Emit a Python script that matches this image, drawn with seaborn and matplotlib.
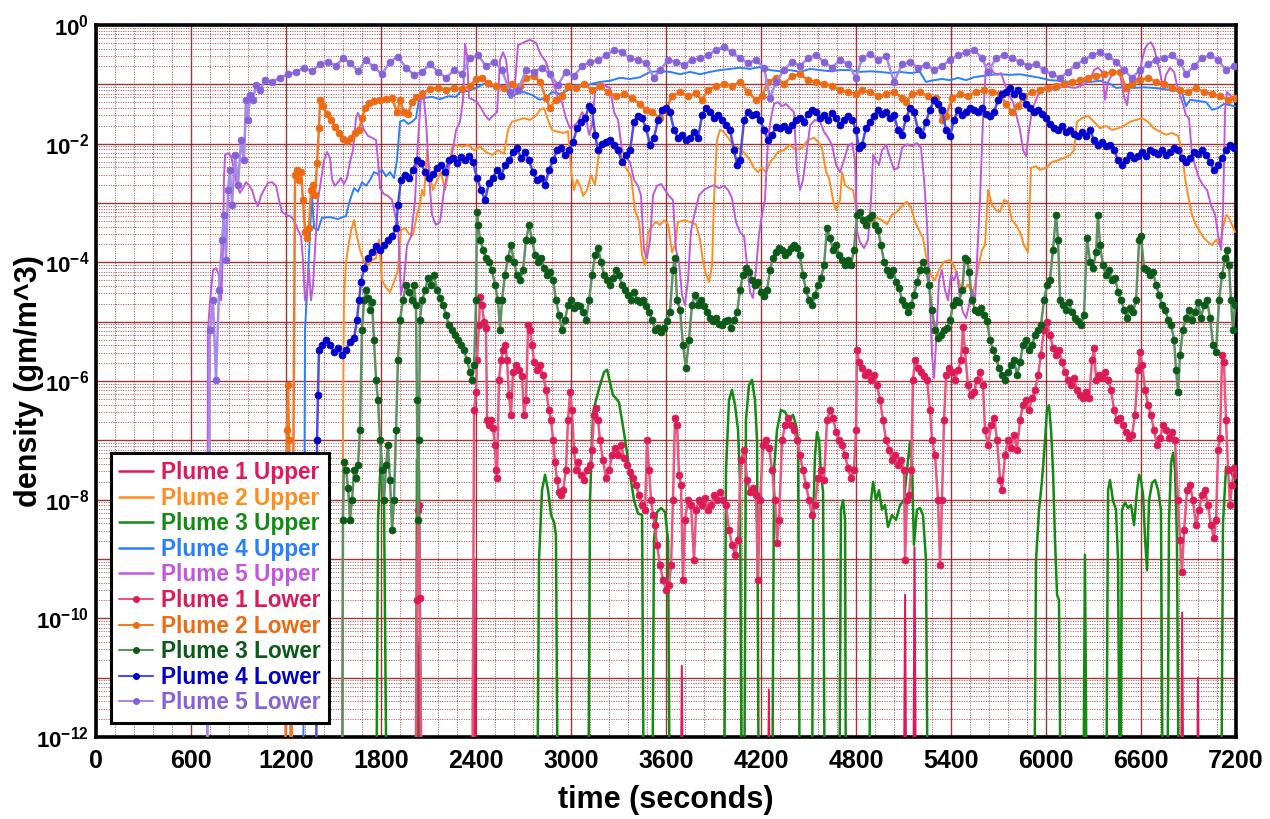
import numpy as np
import matplotlib
matplotlib.use("Agg")
import matplotlib.pyplot as plt
from matplotlib.lines import Line2D
from matplotlib.ticker import MultipleLocator, LogLocator, FuncFormatter, NullFormatter
import seaborn as sns

# ---------------- data: (time [s], log10 density [gm/m^3]) ----------------
# values below -12 mean the series drops below the plotted range
P1_UPPER = [(2020,-14),(2027,-10.2),(2034,-10.5),(2040,-14),(2380,-14),(2390,-9.0),(2400,-14),
            (3690,-14),(3700,-10.8),(3710,-14),(4240,-14),(4250,-11.2),(4260,-14),(5100,-14),
            (5110,-9.6),(5120,-14),(5160,-14),(5170,-8.8),(5180,-14),(6850,-14),(6860,-9.9),
            (6870,-14),(6950,-14),(6960,-11.0),(6970,-14)]

P2_UPPER = [(1554,-14),(1560,-6.66),(1566,-4.64),(1579,-4.0),(1592,-3.76),(1611,-3.46),(1630,-3.29),
            (1648,-3.56),(1667,-3.79),(1693,-3.99),(1718,-4.06),(1743,-3.96),(1769,-3.93),(1787,-3.62),
            (1806,-4.3),(1832,-4.43),(1857,-4.5),(1882,-4.33),(1907,-4.13),(1926,-3.46),(1952,-3.42),
            (1977,-3.52),(2002,-3.54),(2027,-3.2),(2046,-3.03),(2059,-2.78),(2072,-2.88),(2091,-2.11),
            (2110,-2.53),(2128,-2.78),(2154,-2.61),(2179,-2.48),(2204,-2.78),(2223,-2.53),(2248,-2.07),
            (2274,-2.02),(2312,-2.05),(2350,-2.02),(2388,-2.11),(2426,-2.05),(2463,-2.14),(2501,-2.19),
            (2539,-2.11),(2577,-2.17),(2602,-1.77),(2627,-1.63),(2665,-1.6),(2703,-1.57),(2741,-1.6),
            (2779,-1.53),(2804,-1.43),(2830,-1.4),(2855,-1.6),(2880,-1.77),(2918,-1.8),(2956,-1.82),
            (2981,-1.79),(3000,-2.44),(3019,-2.78),(3038,-2.61),(3057,-2.7),(3076,-2.88),(3101,-2.78),
            (3126,-2.53),(3152,-2.7),(3177,-2.14),(3202,-2.04),(3228,-2.01),(3253,-2.05),(3278,-2.02),
            (3303,-2.07),(3329,-2.31),(3354,-2.44),(3379,-2.55),(3404,-3.12),(3430,-3.32),(3449,-3.88),
            (3468,-4.05),(3487,-3.49),(3512,-3.39),(3537,-3.32),(3562,-3.37),(3588,-3.29),(3613,-3.36),
            (3638,-3.83),(3657,-3.71),(3676,-3.32),(3714,-3.29),(3752,-3.32),(3790,-3.36),(3815,-3.62),
            (3834,-3.99),(3853,-4.21),(3872,-4.33),(3891,-4.05),(3903,-2.95),(3922,-1.94),(3941,-1.77),
            (3966,-1.8),(3992,-1.9),(4023,-2.02),(4055,-2.07),(4080,-2.11),(4105,-2.19),(4131,-2.28),
            (4156,-2.41),(4181,-2.48),(4206,-2.41),(4232,-2.48),(4257,-2.31),(4282,-2.24),(4307,-2.14),
            (4345,-2.11),(4383,-2.02),(4421,-2.11),(4459,-2.07),(4497,-1.94),(4535,-1.9),(4560,-1.97),
            (4585,-2.07),(4611,-2.48),(4630,-2.58),(4655,-2.95),(4674,-3.12),(4699,-2.95),(4712,-2.48),
            (4731,-2.7),(4756,-2.75),(4781,-2.78),(4806,-3.15),(4838,-3.29),(4870,-3.39),(4901,-3.32),
            (4933,-3.25),(4964,-3.29),(4996,-3.36),(5027,-3.2),(5059,-3.15),(5091,-3.05),(5122,-2.98),
            (5148,-3.08),(5173,-3.32),(5198,-3.46),(5223,-3.59),(5249,-3.99),(5274,-4.23),(5299,-4.3),
            (5324,-4.13),(5356,-3.99),(5394,-3.96),(5425,-4.1),(5457,-4.38),(5482,-4.47),(5507,-4.37),
            (5533,-4.53),(5552,-4.38),(5571,-4.1),(5596,-3.79),(5615,-3.71),(5634,-2.78),(5659,-3.03),
            (5684,-3.12),(5710,-3.15),(5735,-2.95),(5760,-2.98),(5785,-3.29),(5811,-3.37),(5836,-3.49),
            (5861,-3.71),(5886,-3.83),(5905,-2.41),(5937,-2.38),(5962,-2.44),(6000,-2.41),(6038,-2.31),
            (6076,-2.28),(6114,-2.24),(6152,-2.19),(6177,-2.11),(6196,-1.63),(6227,-1.57),(6265,-1.53),
            (6303,-1.63),(6341,-1.74),(6379,-1.7),(6417,-1.77),(6455,-1.74),(6493,-1.7),(6531,-1.63),
            (6569,-1.6),(6607,-1.57),(6644,-1.63),(6682,-1.74),(6720,-1.8),(6758,-1.85),(6796,-1.82),
            (6834,-1.87),(6859,-2.11),(6878,-2.58),(6897,-2.87),(6922,-3.2),(6947,-3.37),(6973,-3.49),
            (6998,-3.59),(7023,-3.66),(7049,-3.71),(7074,-3.62),(7099,-3.72),(7118,-3.42),(7137,-3.2),
            (7156,-3.25),(7175,-3.37),(7194,-3.49)]

P3_UPPER = [(1769,-14),(1781,-8.34),(1800,-7.25),(1819,-8.01),(1838,-14),(2021,-14),(2027,-7.33),
            (2040,-7.5),(2053,-14),(2785,-14),(2798,-9.02),(2817,-7.84),(2836,-7.58),(2855,-7.84),
            (2874,-8.26),(2893,-8.38),(2905,-8.6),(2918,-14),(3108,-14),(3120,-8.01),(3139,-6.54),
            (3158,-6.32),(3183,-6.07),(3209,-5.85),(3228,-5.81),(3246,-6.02),(3265,-6.24),(3284,-6.29),
            (3303,-6.36),(3322,-6.66),(3347,-7.08),(3373,-7.58),(3398,-8.01),(3423,-8.23),(3449,-8.26),
            (3461,-14),(3512,-14),(3524,-8.68),(3543,-8.21),(3569,-8.14),(3594,-8.21),(3613,-8.68),
            (3625,-14),(3966,-14),(3979,-7.5),(3998,-6.32),(4017,-6.15),(4036,-6.41),(4055,-6.83),
            (4067,-7.67),(4080,-14),(4093,-14),(4105,-6.66),(4124,-6.07),(4143,-5.98),(4162,-6.32),
            (4175,-7.0),(4187,-14),(4270,-14),(4282,-7.5),(4301,-6.83),(4326,-6.49),(4352,-6.52),
            (4377,-6.66),(4402,-6.57),(4421,-6.74),(4434,-7.0),(4446,-14),(4522,-14),(4529,-8.39),
            (4541,-7.25),(4554,-6.86),(4567,-7.0),(4579,-7.58),(4592,-7.87),(4604,-14),(4693,-14),
            (4705,-8.17),(4718,-8.01),(4731,-8.34),(4737,-14),(4882,-14),(4895,-8.01),(4908,-7.7),
            (4926,-8.01),(4945,-7.84),(4964,-8.17),(4983,-8.09),(5002,-8.46),(5027,-8.26),(5053,-8.34),
            (5078,-8.09),(5103,-8.01),(5122,-7.5),(5141,-7.03),(5154,-7.5),(5166,-8.76),(5185,-8.17),
            (5204,-8.14),(5223,-8.26),(5242,-9.02),(5255,-14),(5924,-14),(5937,-9.02),(5956,-8.17),
            (5975,-7.67),(5994,-7.0),(6006,-6.49),(6019,-6.41),(6032,-6.83),(6044,-7.5),(6057,-8.68),
            (6070,-9.61),(6082,-9.69),(6095,-14),(6234,-14),(6246,-8.93),(6259,-14),(6379,-14),
            (6392,-7.84),(6404,-7.67),(6423,-8.01),(6442,-8.17),(6455,-9.02),(6468,-14),(6480,-8.17),
            (6499,-8.05),(6518,-8.14),(6537,-8.09),(6556,-8.43),(6575,-7.84),(6588,-7.58),(6600,-7.67),
            (6613,-7.92),(6626,-8.68),(6638,-9.19),(6651,-8.01),(6670,-7.72),(6689,-7.67),(6708,-7.84),
            (6726,-8.17),(6739,-14),(6765,-14),(6777,-8.34),(6790,-7.37),(6803,-7.21),(6815,-7.5),
            (6827,-8.68),(6840,-14),(7105,-14),(7118,-8.39),(7137,-7.45),(7156,-7.45),(7175,-7.58),
            (7194,-7.67)]

P4_UPPER = [(1307,-14),(1320,-5.14),(1339,-4.21),(1352,-3.46),(1364,-2.87),(1377,-3.42),(1402,-3.46),
            (1427,-3.25),(1478,-3.24),(1528,-3.27),(1579,-3.22),(1604,-2.95),(1630,-2.75),(1655,-2.81),
            (1680,-2.65),(1705,-2.71),(1731,-2.61),(1756,-2.48),(1781,-2.51),(1806,-2.44),(1832,-2.55),
            (1857,-2.48),(1882,-2.58),(1901,-2.28),(1920,-1.63),(1945,-1.6),(1971,-1.67),(1996,-1.63),
            (2021,-1.57),(2040,-1.26),(2072,-1.23),(2122,-1.21),(2173,-1.25),(2223,-1.2),(2274,-1.21),
            (2299,-1.13),(2350,-1.11),(2400,-1.06),(2451,-0.99),(2501,-1.03),(2552,-1.01),(2590,-1.06),
            (2615,-1.23),(2653,-1.16),(2703,-1.13),(2754,-1.18),(2804,-1.26),(2842,-1.23),(2880,-1.13),
            (2931,-1.16),(2981,-1.1),(3032,-1.01),(3082,-1.03),(3133,-0.99),(3183,-0.96),(3246,-0.94),
            (3310,-0.89),(3373,-0.91),(3436,-0.88),(3499,-0.79),(3562,-0.78),(3625,-0.79),(3689,-0.83),
            (3752,-0.79),(3815,-0.83),(3878,-0.79),(3941,-0.76),(4004,-0.74),(4067,-0.72),(4131,-0.74),
            (4194,-0.71),(4257,-0.76),(4320,-0.78),(4383,-0.76),(4446,-0.79),(4510,-0.74),(4573,-0.76),
            (4636,-0.78),(4699,-0.76),(4762,-0.76),(4825,-0.79),(4889,-0.78),(4952,-0.79),(5015,-0.81),
            (5078,-0.79),(5141,-0.81),(5204,-0.79),(5242,-0.96),(5293,-0.93),(5343,-0.91),(5394,-0.93),
            (5444,-0.89),(5495,-0.93),(5545,-0.88),(5596,-0.86),(5646,-0.84),(5710,-0.83),(5773,-0.84),
            (5836,-0.83),(5899,-0.86),(5962,-0.89),(6025,-0.93),(6089,-0.94),(6152,-0.96),(6215,-0.93),
            (6278,-0.96),(6341,-0.94),(6404,-0.99),(6442,-1.06),(6493,-1.05),(6556,-1.06),(6619,-1.05),
            (6682,-1.06),(6745,-1.08),(6809,-1.1),(6859,-1.13),(6884,-1.37),(6910,-1.26),(6960,-1.28),
            (7011,-1.3),(7049,-1.43),(7087,-1.4),(7124,-1.33),(7162,-1.35),(7194,-1.37)]

P5_UPPER = [(701,-14),(707,-5.14),(720,-4.67),(739,-4.13),(758,-4.1),(777,-4.21),(790,-4.64),(802,-3.79),
            (808,-2.61),(815,-2.19),(834,-2.16),(853,-2.21),(872,-2.44),(891,-2.71),(909,-2.83),(928,-2.75),
            (947,-2.65),(966,-2.7),(985,-2.78),(1004,-2.95),(1023,-3.05),(1042,-2.88),(1061,-2.78),
            (1086,-2.66),(1112,-2.65),(1137,-2.71),(1156,-2.95),(1175,-3.15),(1200,-3.2),(1225,-3.22),
            (1251,-3.29),(1276,-3.46),(1295,-3.56),(1307,-3.96),(1320,-4.64),(1333,-4.47),(1345,-4.13),
            (1358,-4.64),(1371,-4.38),(1383,-3.79),(1402,-2.95),(1421,-2.61),(1440,-2.28),(1459,-2.14),
            (1478,-2.24),(1491,-2.61),(1510,-2.71),(1528,-2.65),(1547,-2.58),(1566,-2.68),(1585,-2.58),
            (1604,-2.31),(1623,-2.11),(1642,-1.57),(1655,-1.48),(1674,-1.63),(1693,-1.77),(1718,-1.87),
            (1743,-1.9),(1769,-1.94),(1781,-2.28),(1794,-2.75),(1819,-2.85),(1844,-2.88),(1870,-2.95),
            (1889,-3.2),(1907,-3.32),(1926,-4.55),(1945,-4.3),(1964,-3.71),(1990,-3.56),(2015,-2.95),
            (2034,-1.94),(2053,-1.18),(2065,-1.1),(2084,-1.6),(2103,-2.53),(2122,-3.2),(2147,-3.37),
            (2173,-3.32),(2198,-2.78),(2223,-2.44),(2248,-2.19),(2274,-1.77),(2299,-1.63),(2318,-1.26),
            (2331,-0.32),(2343,-0.51),(2356,-1.23),(2381,-1.26),(2406,-1.3),(2432,-1.4),(2457,-1.52),
            (2482,-1.6),(2507,-1.53),(2533,-1.47),(2552,-0.59),(2571,-0.46),(2590,-0.59),(2608,-1.01),
            (2627,-1.23),(2646,-1.01),(2665,-0.34),(2703,-0.29),(2741,-0.25),(2779,-0.3),(2811,-0.51),
            (2842,-0.62),(2867,-0.84),(2893,-1.01),(2918,-1.23),(2943,-1.3),(2968,-1.57),(2994,-1.74),
            (3019,-1.7),(3044,-1.63),(3070,-1.47),(3095,-1.57),(3114,-1.85),(3133,-1.69),(3152,-1.13),
            (3171,-1.01),(3196,-0.99),(3221,-1.03),(3246,-1.06),(3272,-1.47),(3297,-1.6),(3322,-2.11),
            (3347,-2.24),(3373,-2.31),(3398,-2.61),(3423,-2.71),(3442,-2.87),(3461,-3.79),(3480,-3.93),
            (3499,-3.62),(3518,-2.87),(3543,-2.71),(3569,-2.68),(3594,-2.78),(3619,-2.88),(3644,-2.95),
            (3663,-3.79),(3682,-3.99),(3701,-4.55),(3720,-4.72),(3739,-4.3),(3758,-3.46),(3783,-3.15),
            (3809,-2.87),(3840,-2.78),(3872,-2.73),(3903,-2.7),(3935,-2.75),(3966,-2.71),(3992,-2.78),
            (4017,-2.92),(4042,-3.32),(4067,-3.49),(4093,-3.56),(4112,-4.05),(4131,-4.5),(4149,-4.6),
            (4168,-4.13),(4187,-3.54),(4206,-3.2),(4225,-2.95),(4244,-1.94),(4263,-1.57),(4282,-1.33),
            (4307,-1.3),(4333,-1.37),(4358,-1.33),(4383,-1.4),(4408,-1.47),(4427,-2.44),(4446,-2.78),
            (4465,-2.61),(4484,-2.24),(4510,-1.69),(4541,-1.6),(4573,-1.63),(4598,-1.8),(4623,-1.9),
            (4648,-2.02),(4674,-2.36),(4699,-2.48),(4724,-2.28),(4750,-2.04),(4775,-1.99),(4794,-2.28),
            (4806,-3.46),(4825,-3.66),(4851,-3.76),(4876,-3.62),(4895,-2.95),(4908,-2.19),(4926,-2.28),
            (4945,-2.36),(4964,-2.11),(4990,-2.02),(5015,-2.24),(5040,-2.44),(5065,-2.41),(5091,-2.07),
            (5122,-2.01),(5154,-2.04),(5185,-1.99),(5211,-2.07),(5230,-2.61),(5249,-3.37),(5267,-4.64),
            (5280,-5.56),(5293,-5.95),(5305,-5.39),(5324,-4.3),(5343,-4.13),(5362,-4.47),(5381,-4.64),
            (5400,-4.21),(5419,-4.3),(5438,-4.16),(5457,-4.64),(5476,-4.84),(5495,-4.94),(5514,-4.72),
            (5533,-4.47),(5552,-4.64),(5571,-3.62),(5583,-2.95),(5602,-1.6),(5621,-0.69),(5640,-0.64),
            (5665,-0.79),(5691,-0.84),(5716,-0.81),(5741,-1.01),(5766,-1.18),(5792,-1.3),(5817,-1.57),
            (5836,-1.77),(5855,-2.11),(5874,-2.21),(5893,-1.77),(5912,-1.43),(5937,-1.26),(5962,-1.1),
            (5994,-1.05),(6025,-1.06),(6057,-1.1),(6089,-1.06),(6120,-1.03),(6152,-1.05),(6183,-1.06),
            (6215,-1.03),(6246,-0.99),(6278,-0.93),(6303,-0.76),(6328,-0.72),(6354,-0.79),(6373,-1.26),
            (6392,-0.96),(6417,-0.84),(6442,-0.79),(6468,-0.83),(6493,-1.21),(6512,-1.35),(6531,-0.96),
            (6556,-0.89),(6581,-0.93),(6607,-0.59),(6626,-0.39),(6644,-0.32),(6663,-0.29),(6682,-0.39),
            (6701,-0.59),(6720,-0.79),(6739,-1.06),(6758,-0.84),(6783,-0.72),(6809,-0.79),(6827,-1.01),
            (6846,-1.18),(6865,-1.33),(6884,-1.52),(6903,-1.57),(6922,-2.19),(6941,-2.36),(6966,-2.58),
            (6992,-2.7),(7017,-2.78),(7042,-3.03),(7068,-3.2),(7087,-3.54),(7106,-3.79),(7118,-3.12),
            (7131,-1.43),(7143,-1.13),(7162,-1.18),(7181,-1.23),(7200,-1.3)]

P1_LOWER = [(2015,-14),(2027,-9.69),(2034,-8.17),(2040,-8.09),(2046,-9.66),(2059,-14),(2375,-14),
            (2388,-6.49),(2400,-6.19),(2406,-5.65),(2419,-5.06),(2426,-4.58),(2438,-4.72),(2451,-5.01),
            (2463,-5.11),(2470,-6.66),(2482,-6.74),(2495,-6.66),(2507,-6.79),(2520,-7.08),(2526,-7.5),
            (2533,-7.64),(2545,-5.98),(2558,-5.65),(2571,-5.48),(2583,-5.39),(2596,-5.65),(2608,-6.24),
            (2621,-6.57),(2634,-5.85),(2653,-5.73),(2672,-5.81),(2691,-5.92),(2703,-6.57),(2716,-6.32),
            (2729,-5.06),(2741,-5.14),(2754,-5.39),(2767,-5.68),(2785,-5.81),(2804,-5.73),(2823,-5.9),
            (2842,-6.15),(2861,-6.49),(2874,-6.66),(2887,-7.0),(2899,-7.37),(2912,-7.67),(2924,-7.87),
            (2937,-7.92),(2950,-7.84),(2968,-7.5),(2981,-6.66),(2994,-6.19),(3006,-6.49),(3019,-7.16),
            (3032,-7.5),(3044,-7.37),(3063,-7.58),(3082,-7.67),(3101,-7.5),(3120,-7.42),(3133,-7.16),
            (3145,-6.57),(3158,-6.45),(3171,-6.66),(3183,-7.0),(3202,-7.33),(3221,-7.64),(3240,-7.5),
            (3259,-7.25),(3278,-7.13),(3297,-7.25),(3316,-7.08),(3335,-7.3),(3354,-7.42),(3373,-7.53),
            (3392,-7.64),(3411,-7.75),(3430,-7.92),(3449,-8.09),(3468,-8.17),(3480,-7.0),(3493,-7.5),
            (3506,-8.01),(3518,-8.26),(3531,-8.43),(3543,-8.76),(3562,-9.1),(3581,-9.35),(3600,-9.52),
            (3619,-9.44),(3632,-9.1),(3644,-8.01),(3657,-6.62),(3670,-6.74),(3682,-7.58),(3695,-7.75),
            (3707,-9.35),(3720,-8.34),(3739,-8.01),(3758,-8.09),(3777,-9.02),(3790,-8.17),(3809,-8.01),
            (3828,-8.09),(3847,-7.98),(3865,-8.17),(3884,-8.09),(3903,-7.92),(3922,-8.01),(3941,-7.87),
            (3960,-8.01),(3979,-8.09),(3998,-8.51),(4017,-8.76),(4036,-8.93),(4055,-8.68),(4074,-7.33),
            (4093,-7.16),(4112,-7.67),(4131,-7.87),(4149,-7.8),(4168,-7.92),(4181,-9.35),(4194,-8.01),
            (4213,-7.08),(4232,-7.0),(4251,-7.13),(4270,-7.5),(4289,-8.01),(4301,-8.73),(4314,-8.34),
            (4333,-7.0),(4352,-6.74),(4371,-6.62),(4390,-6.74),(4408,-6.83),(4427,-7.0),(4446,-7.25),
            (4465,-7.5),(4484,-7.75),(4503,-8.01),(4522,-8.26),(4541,-8.09),(4560,-7.64),(4579,-7.5),
            (4598,-7.67),(4617,-6.66),(4636,-6.49),(4655,-6.62),(4674,-6.86),(4693,-7.0),(4712,-7.08),
            (4731,-7.25),(4750,-7.47),(4768,-7.64),(4787,-7.5),(4800,-6.83),(4806,-5.48),(4819,-5.68),
            (4838,-5.78),(4857,-5.9),(4876,-5.85),(4895,-5.98),(4914,-5.9),(4933,-6.07),(4952,-6.32),
            (4971,-6.66),(4990,-7.0),(5009,-7.16),(5027,-7.33),(5046,-7.25),(5065,-7.42),(5084,-7.33),
            (5103,-7.5),(5110,-9.02),(5122,-8.01),(5135,-7.92),(5148,-7.5),(5160,-5.98),(5173,-5.65),
            (5192,-5.78),(5211,-5.85),(5230,-5.92),(5249,-5.98),(5267,-6.49),(5280,-7.0),(5299,-7.25),
            (5318,-8.01),(5331,-9.1),(5343,-8.01),(5356,-6.66),(5369,-5.9),(5388,-5.78),(5407,-5.85),
            (5425,-5.98),(5444,-5.81),(5463,-5.65),(5476,-5.09),(5488,-5.48),(5507,-6.07),(5526,-6.24),
            (5545,-6.19),(5564,-5.98),(5583,-5.85),(5602,-6.07),(5615,-6.83),(5634,-7.08),(5653,-6.74),
            (5672,-6.62),(5691,-7.0),(5710,-7.67),(5722,-7.84),(5741,-7.25),(5760,-7.0),(5779,-7.13),
            (5798,-6.91),(5817,-7.16),(5836,-6.66),(5855,-6.4),(5874,-6.32),(5893,-6.49),(5912,-6.29),
            (5931,-6.15),(5950,-5.9),(5968,-5.56),(5987,-5.14),(6006,-5.01),(6025,-5.23),(6044,-5.44),
            (6063,-5.56),(6082,-5.48),(6101,-5.68),(6120,-5.85),(6139,-5.98),(6158,-6.07),(6177,-5.95),
            (6196,-6.15),(6215,-6.24),(6234,-6.29),(6253,-6.19),(6272,-6.29),(6291,-5.65),(6303,-5.44),
            (6316,-5.98),(6335,-5.9),(6354,-5.95),(6373,-5.85),(6392,-5.98),(6411,-6.15),(6430,-6.49),
            (6449,-6.66),(6468,-6.62),(6486,-6.74),(6505,-6.86),(6524,-6.96),(6543,-6.91),(6562,-6.57),
            (6581,-5.81),(6594,-5.51),(6607,-5.73),(6626,-6.15),(6644,-6.4),(6663,-6.57),(6682,-6.83),
            (6701,-7.08),(6720,-6.96),(6739,-6.74),(6758,-6.83),(6777,-6.96),(6796,-6.86),(6815,-7.0),
            (6834,-8.01),(6846,-8.68),(6859,-9.22),(6872,-8.51),(6891,-7.84),(6910,-7.75),(6928,-8.01),
            (6947,-8.43),(6966,-8.17),(6985,-7.92),(7004,-7.84),(7023,-8.09),(7042,-8.43),(7061,-8.65),
            (7074,-8.34),(7087,-7.16),(7099,-6.96),(7112,-5.56),(7124,-5.68),(7137,-6.66),(7150,-7.5),
            (7162,-8.09),(7175,-7.75),(7187,-7.47),(7200,-7.58)]

P2_LOWER = [(1194,-14),(1206,-6.83),(1213,-6.07),(1219,-7.0),(1232,-14),(1257,-2.53),(1270,-2.44),
            (1282,-2.61),(1295,-2.48),(1307,-2.95),(1320,-3.49),(1333,-3.59),(1345,-3.42),(1358,-2.78),
            (1371,-2.7),(1383,-2.87),(1396,-2.33),(1408,-1.74),(1415,-1.26),(1434,-1.37),(1459,-1.5),
            (1484,-1.6),(1510,-1.72),(1535,-1.82),(1560,-1.92),(1585,-1.96),(1611,-1.9),(1636,-1.82),
            (1661,-1.77),(1680,-1.57),(1699,-1.4),(1724,-1.31),(1756,-1.28),(1794,-1.26),(1832,-1.25),
            (1870,-1.23),(1901,-1.47),(1920,-1.26),(1945,-1.47),(1971,-1.5),(1996,-1.3),(2021,-1.21),
            (2059,-1.16),(2110,-1.08),(2160,-1.06),(2211,-1.1),(2261,-1.06),(2312,-1.08),(2362,-1.03),
            (2400,-0.91),(2438,-0.89),(2476,-0.98),(2526,-1.03),(2577,-1.06),(2627,-0.99),(2678,-1.03),
            (2716,-0.89),(2766,-0.86),(2804,-0.96),(2842,-1.23),(2867,-1.4),(2905,-1.26),(2943,-1.2),
            (2981,-1.03),(3032,-1.06),(3082,-0.99),(3133,-1.1),(3183,-1.03),(3234,-1.13),(3284,-1.2),
            (3335,-1.16),(3385,-1.23),(3436,-1.33),(3474,-1.43),(3512,-1.47),(3562,-1.57),(3600,-1.43),
            (3638,-1.2),(3689,-1.13),(3739,-1.2),(3790,-1.15),(3828,-1.26),(3865,-1.1),(3916,-1.03),
            (3966,-0.99),(4017,-1.03),(4067,-0.96),(4118,-1.13),(4168,-1.26),(4206,-1.2),(4244,-0.96),
            (4295,-0.89),(4345,-0.99),(4396,-0.86),(4446,-0.83),(4497,-0.93),(4547,-0.96),(4598,-0.99),
            (4648,-1.03),(4699,-1.1),(4750,-1.13),(4800,-1.16),(4838,-1.1),(4889,-1.13),(4939,-1.2),
            (4990,-1.16),(5040,-1.13),(5091,-1.23),(5116,-1.3),(5154,-1.16),(5204,-1.13),(5255,-1.2),
            (5305,-1.23),(5343,-1.6),(5369,-1.53),(5407,-1.23),(5457,-1.16),(5507,-1.2),(5558,-1.13),
            (5609,-1.1),(5659,-1.13),(5710,-1.16),(5747,-1.33),(5785,-1.47),(5823,-1.37),(5861,-1.2),
            (5912,-1.13),(5962,-1.1),(6013,-1.06),(6063,-1.03),(6114,-0.99),(6164,-0.96),(6215,-0.93),
            (6265,-0.89),(6316,-0.86),(6366,-0.83),(6417,-0.79),(6468,-0.79),(6505,-1.06),(6543,-0.99),
            (6594,-0.93),(6644,-0.89),(6695,-0.96),(6745,-0.99),(6796,-1.06),(6846,-1.1),(6897,-1.13),
            (6947,-1.06),(6998,-1.13),(7048,-1.16),(7099,-1.2),(7150,-1.26),(7194,-1.23)]

P3_LOWER = [(1554,-14),(1560,-8.34),(1566,-7.37),(1579,-7.5),(1592,-7.8),(1604,-8.34),(1617,-8.01),
            (1630,-7.5),(1642,-7.64),(1655,-7.42),(1667,-6.83),(1680,-5.14),(1693,-4.64),(1705,-4.47),
            (1718,-4.6),(1731,-4.8),(1743,-4.67),(1756,-5.31),(1769,-5.98),(1781,-6.32),(1794,-7.0),
            (1806,-7.5),(1819,-8.01),(1832,-7.42),(1844,-7.08),(1857,-7.67),(1870,-8.51),(1882,-8.01),
            (1895,-6.83),(1907,-5.65),(1920,-4.97),(1939,-4.64),(1958,-4.38),(1977,-4.5),(1996,-4.64),
            (2008,-4.38),(2021,-4.72),(2027,-6.32),(2034,-8.34),(2040,-7.0),(2046,-4.97),(2059,-4.64),
            (2078,-4.47),(2097,-4.26),(2116,-4.38),(2135,-4.21),(2154,-4.47),(2173,-4.6),(2192,-4.72),
            (2211,-4.89),(2229,-5.06),(2248,-5.14),(2267,-5.23),(2286,-5.31),(2305,-5.39),(2324,-5.48),
            (2343,-5.65),(2362,-5.85),(2375,-5.98),(2388,-5.73),(2400,-4.64),(2406,-3.15),(2413,-3.37),
            (2426,-3.62),(2445,-3.79),(2463,-3.93),(2482,-3.99),(2501,-4.13),(2520,-4.38),(2539,-4.64),
            (2552,-5.14),(2564,-4.64),(2583,-4.21),(2602,-3.93),(2621,-3.71),(2640,-3.99),(2659,-4.21),
            (2678,-4.3),(2697,-4.13),(2716,-3.62),(2735,-3.37),(2754,-3.62),(2773,-3.88),(2792,-3.99),
            (2811,-3.93),(2830,-4.1),(2849,-4.21),(2867,-4.16),(2887,-4.3),(2905,-4.64),(2924,-4.89),
            (2943,-5.14),(2962,-4.97),(2981,-4.72),(3000,-4.64),(3019,-4.77),(3038,-4.72),(3057,-4.74),
            (3076,-4.84),(3095,-4.97),(3114,-4.64),(3133,-4.21),(3152,-3.88),(3171,-3.76),(3190,-3.99),
            (3209,-4.21),(3228,-4.3),(3246,-4.38),(3265,-4.26),(3284,-4.13),(3303,-4.21),(3322,-4.38),
            (3341,-4.47),(3360,-4.55),(3379,-4.64),(3398,-4.5),(3417,-4.64),(3436,-4.67),(3455,-4.64),
            (3474,-4.74),(3493,-4.84),(3512,-4.97),(3531,-5.14),(3550,-5.11),(3569,-5.18),(3588,-5.11),
            (3607,-4.99),(3625,-4.84),(3644,-4.13),(3657,-3.93),(3670,-4.64),(3689,-4.8),(3707,-5.39),
            (3726,-5.78),(3745,-5.31),(3764,-4.72),(3783,-4.55),(3802,-4.72),(3821,-4.64),(3840,-4.74),
            (3859,-4.84),(3878,-4.94),(3897,-4.99),(3916,-4.94),(3935,-5.04),(3954,-5.06),(3973,-4.99),
            (3992,-4.97),(4011,-5.11),(4030,-4.97),(4049,-4.84),(4067,-4.47),(4086,-4.21),(4105,-4.1),
            (4124,-4.16),(4143,-4.3),(4162,-4.38),(4181,-4.33),(4200,-4.5),(4219,-4.57),(4238,-4.47),
            (4257,-4.13),(4276,-3.93),(4295,-3.83),(4314,-3.76),(4333,-3.79),(4352,-3.88),(4371,-3.83),
            (4390,-3.76),(4408,-3.71),(4427,-3.76),(4446,-3.88),(4465,-4.21),(4484,-4.47),(4503,-4.64),
            (4522,-4.72),(4541,-4.55),(4560,-4.38),(4579,-4.26),(4598,-4.05),(4617,-3.42),(4636,-3.59),
            (4655,-3.79),(4674,-3.71),(4693,-3.88),(4712,-3.96),(4731,-4.05),(4750,-3.96),(4768,-4.05),
            (4787,-3.79),(4806,-3.2),(4825,-3.15),(4844,-3.29),(4863,-3.37),(4882,-3.25),(4901,-3.2),
            (4920,-3.37),(4939,-3.46),(4958,-3.71),(4977,-3.99),(4996,-4.13),(5015,-4.21),(5034,-4.13),
            (5053,-4.33),(5072,-4.43),(5091,-4.64),(5110,-4.72),(5129,-4.84),(5148,-4.72),(5166,-4.55),
            (5185,-4.33),(5204,-4.13),(5223,-3.99),(5242,-4.13),(5261,-4.38),(5280,-4.8),(5299,-5.14),
            (5318,-5.28),(5337,-5.23),(5356,-5.14),(5375,-5.11),(5394,-4.97),(5413,-4.72),(5432,-4.64),
            (5451,-4.67),(5470,-4.47),(5488,-3.93),(5501,-3.96),(5514,-4.16),(5533,-4.64),(5552,-4.8),
            (5571,-4.84),(5590,-4.77),(5609,-4.89),(5628,-4.99),(5646,-5.31),(5665,-5.48),(5684,-5.61),
            (5703,-5.78),(5722,-5.9),(5741,-5.98),(5760,-5.85),(5779,-5.73),(5798,-5.65),(5817,-5.9),
            (5836,-5.68),(5855,-5.39),(5874,-5.31),(5893,-5.48),(5912,-5.39),(5931,-5.23),(5950,-5.14),
            (5968,-5.06),(5987,-4.64),(6006,-4.38),(6025,-4.3),(6044,-3.79),(6063,-3.2),(6076,-3.62),
            (6089,-4.64),(6107,-4.72),(6126,-4.8),(6145,-4.67),(6164,-4.84),(6183,-4.94),(6202,-4.99),
            (6221,-5.06),(6240,-4.89),(6259,-3.59),(6278,-3.99),(6297,-4.1),(6316,-3.83),(6328,-3.2),
            (6341,-3.71),(6360,-4.05),(6379,-4.21),(6398,-4.13),(6417,-4.3),(6436,-4.26),(6455,-4.5),
            (6474,-4.64),(6493,-4.8),(6512,-4.94),(6531,-4.77),(6550,-4.84),(6569,-4.64),(6588,-3.62),
            (6600,-3.56),(6619,-4.1),(6638,-4.13),(6657,-4.21),(6676,-4.16),(6695,-4.38),(6714,-4.55),
            (6733,-4.72),(6752,-4.8),(6771,-4.97),(6790,-5.06),(6809,-5.31),(6821,-5.81),(6834,-6.19),
            (6846,-5.56),(6865,-5.14),(6884,-4.94),(6903,-4.8),(6922,-4.97),(6941,-4.84),(6960,-4.67),
            (6979,-4.94),(6998,-4.72),(7017,-4.64),(7036,-4.94),(7055,-5.39),(7074,-5.51),(7093,-4.64),
            (7112,-4.21),(7131,-3.93),(7143,-3.79),(7156,-4.05),(7168,-4.64),(7181,-5.14),(7194,-4.72)]

P4_LOWER = [(1390,-14),(1396,-7.0),(1402,-6.24),(1408,-5.48),(1427,-5.39),(1453,-5.31),(1478,-5.39),
            (1503,-5.51),(1528,-5.44),(1554,-5.56),(1579,-5.48),(1604,-5.34),(1630,-5.28),(1648,-4.97),
            (1661,-4.64),(1674,-4.33),(1693,-4.1),(1718,-3.93),(1743,-3.83),(1769,-3.72),(1794,-3.79),
            (1819,-3.71),(1844,-3.62),(1870,-3.56),(1895,-3.42),(1907,-3.03),(1926,-2.61),(1952,-2.53),
            (1977,-2.58),(2002,-2.44),(2027,-2.28),(2053,-2.33),(2078,-2.48),(2103,-2.58),(2128,-2.51),
            (2154,-2.41),(2179,-2.36),(2204,-2.48),(2229,-2.28),(2255,-2.24),(2280,-2.33),(2305,-2.22),
            (2331,-2.28),(2356,-2.21),(2381,-2.31),(2406,-2.58),(2432,-2.78),(2457,-2.95),(2482,-2.66),
            (2507,-2.58),(2533,-2.44),(2558,-2.55),(2583,-2.36),(2608,-2.28),(2634,-2.14),(2659,-2.07),
            (2684,-2.24),(2710,-2.14),(2735,-2.28),(2760,-2.48),(2785,-2.61),(2811,-2.58),(2836,-2.7),
            (2861,-2.44),(2887,-2.28),(2912,-2.11),(2937,-2.07),(2962,-2.19),(2987,-2.11),(3013,-1.97),
            (3038,-1.74),(3063,-1.63),(3089,-1.57),(3114,-1.37),(3133,-1.43),(3152,-1.85),(3171,-2.11),
            (3196,-2.01),(3221,-1.97),(3246,-1.94),(3272,-2.02),(3297,-2.11),(3322,-2.31),(3347,-2.19),
            (3373,-2.11),(3398,-1.63),(3423,-1.53),(3449,-1.57),(3474,-1.74),(3499,-2.02),(3524,-1.9),
            (3550,-1.6),(3575,-1.43),(3600,-1.4),(3625,-1.47),(3651,-1.77),(3676,-1.9),(3701,-1.85),
            (3727,-1.94),(3752,-1.9),(3777,-1.8),(3802,-1.9),(3828,-1.52),(3853,-1.4),(3878,-1.47),
            (3903,-1.57),(3928,-1.52),(3954,-1.6),(3979,-1.69),(4004,-1.77),(4030,-2.11),(4049,-2.36),
            (4067,-2.28),(4093,-1.6),(4118,-1.47),(4143,-1.52),(4168,-1.5),(4194,-1.6),(4219,-1.77),
            (4244,-1.94),(4269,-1.85),(4295,-1.72),(4320,-1.74),(4345,-1.7),(4371,-1.77),(4396,-1.69),
            (4421,-1.6),(4446,-1.57),(4472,-1.63),(4497,-1.5),(4522,-1.43),(4547,-1.47),(4573,-1.57),
            (4598,-1.52),(4623,-1.6),(4648,-1.48),(4674,-1.57),(4699,-1.69),(4724,-1.6),(4750,-1.53),
            (4775,-1.6),(4800,-1.77),(4819,-2.07),(4838,-2.02),(4863,-1.74),(4889,-1.63),(4914,-1.53),
            (4939,-1.43),(4964,-1.5),(4990,-1.47),(5015,-1.57),(5040,-1.52),(5065,-1.77),(5091,-1.85),
            (5116,-1.57),(5141,-1.4),(5166,-1.47),(5192,-1.77),(5217,-1.85),(5242,-1.63),(5267,-1.43),
            (5293,-1.26),(5318,-1.33),(5343,-1.43),(5369,-1.77),(5394,-1.87),(5419,-1.6),(5444,-1.43),
            (5470,-1.52),(5495,-1.47),(5520,-1.4),(5545,-1.43),(5571,-1.47),(5596,-1.4),(5621,-1.5),
            (5646,-1.53),(5672,-1.47),(5697,-1.26),(5722,-1.16),(5747,-1.13),(5773,-1.06),(5798,-1.16),
            (5823,-1.1),(5849,-1.2),(5874,-1.33),(5899,-1.4),(5924,-1.47),(5950,-1.43),(5975,-1.5),
            (6000,-1.57),(6025,-1.67),(6051,-1.74),(6076,-1.77),(6101,-1.7),(6126,-1.8),(6152,-1.77),
            (6177,-1.84),(6202,-1.87),(6227,-1.8),(6253,-1.87),(6278,-1.77),(6303,-1.94),(6328,-2.02),
            (6354,-1.97),(6379,-2.04),(6404,-2.02),(6430,-2.11),(6455,-2.28),(6480,-2.36),(6505,-2.28),
            (6531,-2.19),(6556,-2.24),(6581,-2.21),(6607,-2.14),(6632,-2.21),(6657,-2.11),(6682,-2.14),
            (6708,-2.17),(6733,-2.11),(6758,-2.19),(6783,-2.14),(6809,-2.07),(6834,-2.11),(6859,-2.24),
            (6884,-2.31),(6910,-2.24),(6935,-2.14),(6960,-2.17),(6985,-2.11),(7011,-2.19),(7036,-2.31),
            (7061,-2.44),(7087,-2.36),(7112,-2.24),(7137,-2.11),(7162,-2.02),(7187,-2.07)]

P5_LOWER = [(700,-14),(720,-5.14),(739,-4.64),(758,-5.98),(777,-4.47),(796,-3.62),(808,-3.2),(821,-3.96),
            (834,-2.78),(846,-2.44),(859,-3.03),(878,-2.19),(897,-2.7),(916,-1.94),(935,-2.28),(947,-1.26),
            (960,-1.6),(973,-1.18),(992,-1.26),(1011,-1.01),(1036,-1.1),(1067,-0.93),(1112,-0.96),
            (1162,-0.89),(1213,-0.83),(1263,-0.79),(1314,-0.72),(1364,-0.78),(1415,-0.66),(1465,-0.62),
            (1516,-0.69),(1560,-0.56),(1604,-0.64),(1655,-0.78),(1705,-0.59),(1756,-0.71),(1806,-0.83),
            (1857,-0.62),(1907,-0.54),(1958,-0.72),(2008,-0.84),(2059,-0.79),(2110,-0.66),(2160,-0.79),
            (2211,-0.89),(2261,-0.76),(2312,-0.83),(2362,-0.56),(2413,-0.51),(2463,-0.69),(2514,-0.62),
            (2564,-0.76),(2615,-1.13),(2665,-1.1),(2716,-0.76),(2766,-0.79),(2817,-0.72),(2867,-0.83),
            (2918,-1.01),(2968,-0.79),(3019,-0.86),(3070,-0.69),(3120,-0.62),(3171,-0.59),(3221,-0.51),
            (3272,-0.42),(3322,-0.46),(3373,-0.56),(3423,-0.59),(3474,-0.64),(3524,-0.89),(3562,-0.76),
            (3613,-0.59),(3663,-0.62),(3714,-0.67),(3764,-0.59),(3815,-0.56),(3865,-0.51),(3916,-0.42),
            (3966,-0.37),(4017,-0.46),(4067,-0.56),(4118,-0.64),(4168,-0.59),(4219,-0.72),(4257,-1.23),
            (4295,-0.96),(4345,-0.76),(4396,-0.62),(4446,-0.69),(4497,-0.56),(4547,-0.51),(4598,-0.62),
            (4648,-0.72),(4699,-0.59),(4750,-0.66),(4800,-0.89),(4838,-0.56),(4889,-0.49),(4939,-0.59),
            (4990,-0.52),(5040,-0.96),(5091,-0.66),(5141,-0.62),(5192,-0.72),(5242,-0.67),(5293,-0.76),
            (5343,-0.69),(5394,-0.59),(5444,-0.51),(5495,-0.46),(5545,-0.42),(5596,-0.56),(5634,-0.79),
            (5684,-0.56),(5735,-0.51),(5785,-0.56),(5836,-0.62),(5886,-0.69),(5937,-0.66),(5987,-0.76),
            (6038,-0.83),(6089,-0.89),(6139,-0.79),(6190,-0.67),(6240,-0.59),(6291,-0.51),(6341,-0.46),
            (6392,-0.52),(6442,-0.62),(6493,-0.76),(6543,-0.89),(6594,-0.76),(6644,-0.66),(6695,-0.59),
            (6745,-0.56),(6796,-0.51),(6846,-0.62),(6884,-0.83),(6935,-0.69),(6985,-0.56),(7036,-0.51),
            (7086,-0.59),(7137,-0.76),(7187,-0.69)]

LABELS = ["Plume 1 Upper", "Plume 2 Upper", "Plume 3 Upper", "Plume 4 Upper", "Plume 5 Upper",
          "Plume 1 Lower", "Plume 2 Lower", "Plume 3 Lower", "Plume 4 Lower", "Plume 5 Lower"]
X_TICKS = [0, 600, 1200, 1800, 2400, 3000, 3600, 4200, 4800, 5400, 6000, 6600, 7200]

# ---------------- styling ----------------
sns.set_style("white")
plt.rcParams['font.family'] = ['Liberation Sans', 'DejaVu Sans']
plt.rcParams['font.weight'] = 'bold'
plt.rcParams['text.color'] = 'black'
plt.rcParams['axes.labelcolor'] = 'black'
plt.rcParams['xtick.labelcolor'] = 'black'
plt.rcParams['ytick.labelcolor'] = 'black'
plt.rcParams['mathtext.fontset'] = 'custom'
plt.rcParams['mathtext.rm'] = 'Liberation Sans:bold'
plt.rcParams['mathtext.it'] = 'Liberation Sans:bold'
plt.rcParams['mathtext.bf'] = 'Liberation Sans:bold'
plt.rcParams['mathtext.default'] = 'bf'

UPPER_COLORS = ['#e0195a', '#ff8c1e', '#138a13', '#2a7fff', '#c058dc']
LOWER_MARK = ['#dc1a55', '#ee6a12', '#0b5a18', '#0000cc', '#8562d8']
LOWER_LINE = ['#e8557f', '#f07a2a', '#5f8f65', '#4c4ce6', '#a58ae6']
UPPER_LW = [1.4, 1.4, 1.8, 1.4, 1.4]

fig = plt.figure(figsize=(12.7, 8.19), dpi=100)
ax = fig.add_axes([96/1270, 1-737/819, 1140/1270, 712/819])
ax.set_yscale('log')
ax.set_xlim(0, 7200)
ax.set_ylim(1e-12, 1.0)

grid_col = '#8b1414'
ax.xaxis.set_major_locator(MultipleLocator(600))
ax.xaxis.set_minor_locator(MultipleLocator(120))
ax.yaxis.set_major_locator(LogLocator(base=10, numticks=30))
ax.yaxis.set_minor_locator(LogLocator(base=10, subs=np.arange(2, 10), numticks=30))
ax.yaxis.set_minor_formatter(NullFormatter())


def ylab(v, pos):
    e = int(round(np.log10(v)))
    return r'$10^{%d}$' % e if e % 2 == 0 else ''


ax.yaxis.set_major_formatter(FuncFormatter(ylab))
ax.set_xticks(X_TICKS)
ax.set_xticklabels([str(v) for v in X_TICKS])
ax.grid(which='major', axis='both', color=grid_col, lw=1.0, ls='-', alpha=0.85)
ax.grid(which='minor', axis='both', color=grid_col, lw=0.6, ls=(0, (1.3, 1.6)), alpha=0.8)
ax.set_axisbelow(True)

ax.tick_params(which='major', direction='in', length=5, width=1.5, color='#777777', pad=9,
               labelcolor='black')
ax.tick_params(which='minor', direction='in', length=3, width=1, color='#777777')
ax.tick_params(axis='x', labelsize=18)
ax.tick_params(axis='y', labelsize=16, pad=5)
for lab in ax.get_xticklabels() + ax.get_yticklabels():
    lab.set_fontweight('bold')
    lab.set_color('black')

for s in ax.spines.values():
    s.set_color('black')
    s.set_linewidth(2.6)


def split(pairs):
    t = np.array([p[0] for p in pairs], dtype=float)
    d = 10.0 ** np.array([p[1] for p in pairs], dtype=float)
    return t, d


uppers = [P1_UPPER, P2_UPPER, P3_UPPER, P4_UPPER, P5_UPPER]
lowers = [P1_LOWER, P2_LOWER, P3_LOWER, P4_LOWER, P5_LOWER]

for i, series in enumerate(uppers):
    t, d = split(series)
    sns.lineplot(x=t, y=d, ax=ax, color=UPPER_COLORS[i], lw=UPPER_LW[i],
                 estimator=None, sort=False, legend=False, zorder=3 + i * 0.1)

for i, series in enumerate(lowers):
    t, d = split(series)
    sns.lineplot(x=t, y=d, ax=ax, color=LOWER_LINE[i], lw=1.8, marker='o', markersize=5.0,
                 markerfacecolor=LOWER_MARK[i], markeredgecolor=LOWER_MARK[i], markeredgewidth=0.5,
                 estimator=None, sort=False, legend=False, zorder=4 + i * 0.1)

ax.set_xlim(0, 7200)
ax.set_ylim(1e-12, 1.0)

ax.set_xlabel('time (seconds)', fontsize=22, fontweight='bold', labelpad=8, color='black')
ax.set_ylabel('density (gm/m^3)', fontsize=22, fontweight='bold', color='black')
ax.yaxis.set_label_coords(-0.046, 0.5)

handles = []
for i in range(5):
    handles.append(Line2D([], [], color=UPPER_COLORS[i], lw=1.8))
for i in range(5):
    handles.append(Line2D([], [], color=LOWER_LINE[i], lw=1.5, marker='o', markersize=4,
                          markerfacecolor=LOWER_MARK[i], markeredgecolor=LOWER_MARK[i]))
leg = ax.legend(handles, LABELS, loc='lower left', bbox_to_anchor=(0.013, 0.02),
                borderaxespad=0, frameon=True, fancybox=False, framealpha=1,
                edgecolor='black', prop={'weight': 'bold', 'size': 16.3},
                handlelength=1.5, handletextpad=0.35, labelspacing=0.115, borderpad=0.37)
leg.get_frame().set_linewidth(2.2)
leg.set_zorder(20)
for txt, col in zip(leg.get_texts(), UPPER_COLORS + LOWER_MARK):
    txt.set_color(col)

fig.savefig('out.png', dpi=100)
